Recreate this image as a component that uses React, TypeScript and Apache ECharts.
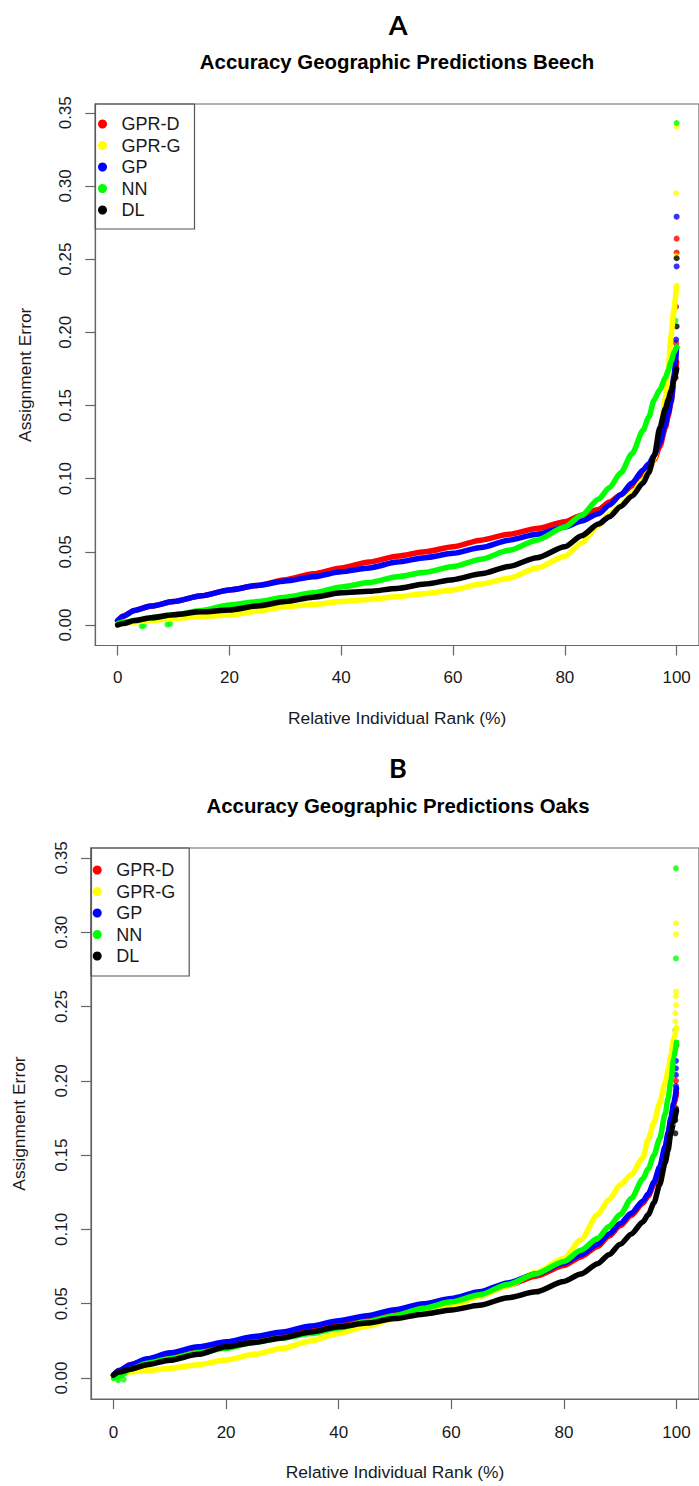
import React, { useEffect, useRef } from "react";
import * as echarts from "echarts";

const FONT = "'Liberation Sans', Arial, Helvetica, sans-serif";

const names = ["GPR-D", "GPR-G", "GP", "NN", "DL"];
const colors = ["#ff0000", "#ffff00", "#0000ff", "#00ff00", "#000000"];

const xTicks = [0, 20, 40, 60, 80, 100];
const yTicks = [0, 0.05, 0.1, 0.15, 0.2, 0.25, 0.3, 0.35];

// Relative individual rank (%) sample positions
const rank = [0, 1, 3, 6, 10, 15, 20, 25, 30, 35, 40, 45, 50, 55, 60, 65, 70, 75, 80, 83, 86, 88, 90, 92, 94, 95, 96, 97, 98, 98.5, 99, 99.5, 100];

// Panel A – Beech
const beechGPRD = [0.003, 0.006, 0.010, 0.013, 0.016, 0.020, 0.024, 0.027, 0.031, 0.035, 0.039, 0.043, 0.047, 0.050, 0.0535, 0.058, 0.062, 0.066, 0.0706, 0.075, 0.079, 0.084, 0.089, 0.095, 0.102, 0.107, 0.113, 0.122, 0.135, 0.143, 0.152, 0.165, 0.18];
const beechGPRG = [0.000, 0.001, 0.002, 0.003, 0.0045, 0.0058, 0.0068, 0.0095, 0.0125, 0.014, 0.016, 0.0175, 0.0193, 0.0215, 0.024, 0.028, 0.032, 0.039, 0.047, 0.056, 0.068, 0.076, 0.082, 0.090, 0.099, 0.105, 0.114, 0.128, 0.155, 0.175, 0.198, 0.215, 0.232];
const beechGP = [0.003, 0.006, 0.010, 0.013, 0.016, 0.020, 0.024, 0.027, 0.030, 0.033, 0.0364, 0.039, 0.043, 0.046, 0.049, 0.053, 0.058, 0.062, 0.067, 0.071, 0.076, 0.082, 0.089, 0.097, 0.106, 0.110, 0.116, 0.125, 0.137, 0.145, 0.153, 0.17, 0.19];
const beechNN = [0.001, 0.002, 0.003, 0.005, 0.007, 0.010, 0.0137, 0.016, 0.019, 0.022, 0.026, 0.029, 0.033, 0.036, 0.040, 0.045, 0.051, 0.058, 0.067, 0.075, 0.086, 0.094, 0.104, 0.117, 0.133, 0.142, 0.154, 0.161, 0.169, 0.174, 0.180, 0.186, 0.19];
const beechDL = [0.000, 0.001, 0.003, 0.005, 0.007, 0.009, 0.0103, 0.013, 0.016, 0.019, 0.022, 0.023, 0.025, 0.028, 0.031, 0.035, 0.040, 0.046, 0.0535, 0.061, 0.069, 0.074, 0.081, 0.088, 0.097, 0.104, 0.116, 0.135, 0.148, 0.154, 0.160, 0.167, 0.175];

const beechTailGPRD = [[99.9, 0.1926], [99.9, 0.2176], [100, 0.2545], [100, 0.264]];
const beechTailGPRG = [[99.6, 0.214], [99.7, 0.221], [99.9, 0.252], [99.9, 0.295], [100, 0.3406]];
const beechTailGP = [[99.8, 0.183], [99.8, 0.1876], [99.9, 0.195], [100, 0.245], [100, 0.279]];
const beechTailNN = [[4.3, -0.0008], [4.7, -0.0005], [8.9, 0.0003], [9.4, 0.0008], [99.8, 0.208], [100, 0.343]];
const beechTailDL = [[99.8, 0.169], [99.8, 0.174], [100, 0.204], [100, 0.2506]];

// Panel B – Oaks
const oakGPRD = [0.002, 0.005, 0.009, 0.0125, 0.0165, 0.0205, 0.0237, 0.0272, 0.0303, 0.0342, 0.0377, 0.041, 0.045, 0.049, 0.0525, 0.057, 0.0625, 0.0685, 0.0757, 0.0815, 0.0885, 0.0955, 0.1025, 0.1095, 0.1175, 0.1225, 0.1305, 0.1405, 0.154, 0.163, 0.173, 0.183, 0.192];
const oakGPRG = [0.001, 0.002, 0.004, 0.005, 0.0065, 0.009, 0.0121, 0.016, 0.020, 0.025, 0.030, 0.035, 0.040, 0.044, 0.048, 0.055, 0.062, 0.071, 0.0806, 0.093, 0.110, 0.120, 0.130, 0.137, 0.148, 0.161, 0.172, 0.185, 0.199, 0.207, 0.217, 0.228, 0.236];
const oakGP = [0.002, 0.005, 0.009, 0.013, 0.017, 0.021, 0.0244, 0.028, 0.031, 0.035, 0.0386, 0.042, 0.046, 0.050, 0.0536, 0.058, 0.064, 0.070, 0.0772, 0.083, 0.090, 0.097, 0.104, 0.111, 0.119, 0.124, 0.132, 0.142, 0.156, 0.165, 0.175, 0.185, 0.195];
const oakNN = [0.000, 0.001, 0.006, 0.010, 0.013, 0.017, 0.020, 0.024, 0.027, 0.030, 0.0337, 0.038, 0.042, 0.047, 0.0513, 0.056, 0.063, 0.070, 0.0785, 0.086, 0.094, 0.102, 0.110, 0.121, 0.134, 0.141, 0.150, 0.161, 0.178, 0.188, 0.200, 0.215, 0.226];
const oakDL = [0.002, 0.004, 0.006, 0.009, 0.012, 0.016, 0.021, 0.024, 0.027, 0.031, 0.0345, 0.037, 0.040, 0.043, 0.0458, 0.049, 0.054, 0.058, 0.065, 0.070, 0.077, 0.083, 0.090, 0.097, 0.105, 0.110, 0.118, 0.130, 0.145, 0.153, 0.165, 0.172, 0.18];

const oakTailGPRD = [[99.9, 0.194], [99.9, 0.2], [100, 0.224]];
const oakTailGPRG = [[99.8, 0.240], [99.8, 0.2456], [99.9, 0.251], [99.9, 0.257], [99.9, 0.260], [99.9, 0.2986], [99.9, 0.306]];
const oakTailGP = [[99.9, 0.1965], [99.9, 0.204], [99.9, 0.2084], [99.9, 0.2135]];
const oakTailNN = [[0.8, -0.0015], [1.8, -0.001], [99.8, 0.234], [99.9, 0.2824], [99.9, 0.343]];
const oakTailDL = [[99.8, 0.1647], [99.8, 0.1736], [99.9, 0.1815], [99.9, 0.1904]];

const beechLines = [beechGPRD, beechGPRG, beechGP, beechNN, beechDL];
const beechTails = [beechTailGPRD, beechTailGPRG, beechTailGP, beechTailNN, beechTailDL];
const oakLines = [oakGPRD, oakGPRG, oakGP, oakNN, oakDL];
const oakTails = [oakTailGPRD, oakTailGPRG, oakTailGP, oakTailNN, oakTailDL];

const AXIS_COLOR = "#666";
const TEXT_COLOR = "#1a1a1a";

function xAxisCfg(gridIndex: number, labelMargin: number) {
  return {
    gridIndex,
    type: "value",
    min: -4,
    max: 104,
    axisLine: { show: true, onZero: false, lineStyle: { color: AXIS_COLOR, width: 1.2 } },
    axisTick: { show: true, length: 10, customValues: xTicks, lineStyle: { color: AXIS_COLOR, width: 1.2 } },
    axisLabel: { customValues: xTicks, fontSize: 17, color: TEXT_COLOR, fontFamily: FONT, margin: labelMargin },
    splitLine: { show: false },
    name: "Relative Individual Rank (%)",
    nameLocation: "middle",
    nameGap: 64,
    nameTextStyle: { fontSize: 17.4, color: TEXT_COLOR, fontFamily: FONT },
  };
}

function yAxisCfg(gridIndex: number, min: number, max: number, nameGap: number) {
  return {
    gridIndex,
    type: "value",
    min,
    max,
    axisLine: { show: true, onZero: false, lineStyle: { color: AXIS_COLOR, width: 1.2 } },
    axisTick: { show: true, length: 10, customValues: yTicks, lineStyle: { color: AXIS_COLOR, width: 1.2 } },
    axisLabel: {
      customValues: yTicks,
      rotate: 90,
      formatter: (v: number) => v.toFixed(2),
      fontSize: 17,
      color: TEXT_COLOR,
      fontFamily: FONT,
      margin: 21.5,
    },
    splitLine: { show: false },
    name: "Assignment Error",
    nameLocation: "middle",
    nameGap,
    nameTextStyle: { fontSize: 17.4, color: TEXT_COLOR, fontFamily: FONT },
  };
}

function legendCfg(left: number, top: number, padding: number[]) {
  return {
    left,
    top,
    orient: "vertical",
    icon: "circle",
    itemWidth: 28,
    itemHeight: 9,
    itemGap: 3.5,
    padding,
    borderColor: "#555",
    borderWidth: 1.2,
    selectedMode: false,
    data: names,
    textStyle: { fontSize: 18, lineHeight: 18, color: TEXT_COLOR, fontFamily: FONT },
  };
}

function buildSeries(lines: number[][], tails: number[][][], idx: number) {
  const out: any[] = [];
  lines.forEach((vals, i) => {
    out.push({
      type: "line",
      name: names[i],
      xAxisIndex: idx,
      yAxisIndex: idx,
      data: rank.map((r, k) => [r, vals[k]]),
      showSymbol: false,
      symbol: "circle",
      smooth: 0.25,
      smoothMonotone: "x",
      silent: true,
      lineStyle: { width: 5.5, color: colors[i], cap: "round", join: "round" },
      itemStyle: { color: colors[i] },
    });
  });
  tails.forEach((pts, i) => {
    out.push({
      type: "scatter",
      name: names[i],
      xAxisIndex: idx,
      yAxisIndex: idx,
      data: pts,
      symbol: "circle",
      symbolSize: 6,
      silent: true,
      itemStyle: { color: colors[i] },
    });
  });
  return out;
}

export default function App() {
  const ref = useRef<HTMLDivElement>(null);
  useEffect(() => {
    if (!ref.current) return;
    const chart = echarts.init(ref.current, null, { renderer: "svg" });
    chart.setOption({
      animation: false,
      backgroundColor: "#ffffff",
      grid: [
        { left: 95.3, top: 104, width: 604.8, height: 541.5, show: true, borderColor: AXIS_COLOR, borderWidth: 1.2 },
        { left: 91, top: 848, width: 614, height: 551, show: true, borderColor: AXIS_COLOR, borderWidth: 1.2 },
      ],
      xAxis: [xAxisCfg(0, 23), xAxisCfg(1, 24.5)],
      yAxis: [yAxisCfg(0, -0.014, 0.356, 62), yAxisCfg(1, -0.0141, 0.3567, 64)],
      legend: [legendCfg(95.3, 104, [11, 14, 10, 2.7]), legendCfg(91, 848, [13, 14, 11, 1.7])],
      graphic: [
        { type: "text", x: 398, y: 24, style: { text: "A", textAlign: "center", textVerticalAlign: "middle", font: "bold 27px Lato, 'Open Sans', sans-serif", fill: "#000" } },
        { type: "text", x: 397, y: 62, style: { text: "Accuracy Geographic Predictions Beech", textAlign: "center", textVerticalAlign: "middle", font: "bold 20.4px " + FONT, fill: "#000" } },
        { type: "text", x: 398, y: 767, style: { text: "B", textAlign: "center", textVerticalAlign: "middle", font: "bold 27px Lato, 'Open Sans', sans-serif", fill: "#000" } },
        { type: "text", x: 398, y: 806, style: { text: "Accuracy Geographic Predictions Oaks", textAlign: "center", textVerticalAlign: "middle", font: "bold 20.4px " + FONT, fill: "#000" } },
      ],
      series: [...buildSeries(beechLines, beechTails, 0), ...buildSeries(oakLines, oakTails, 1)],
    });
    return () => chart.dispose();
  }, []);
  return (
    <div
      ref={ref}
      style={{ position: "fixed", left: 0, top: 0, width: 699, height: 1486, background: "#fff" }}
    />
  );
}
